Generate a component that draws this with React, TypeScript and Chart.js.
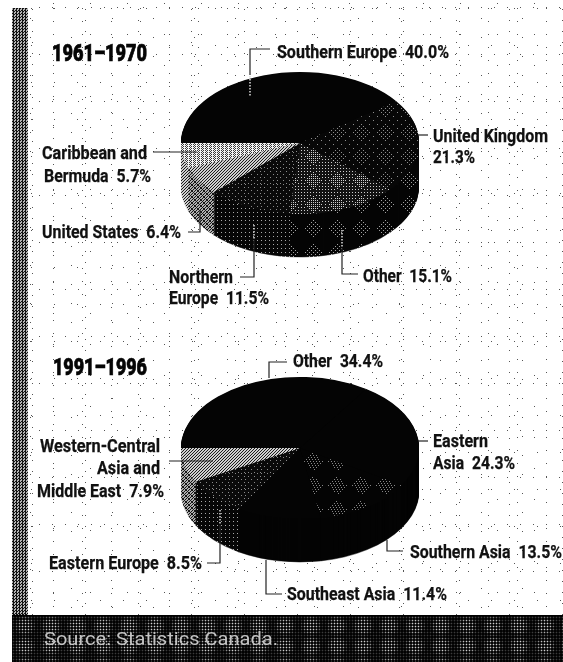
import React, { useEffect, useRef } from "react";
import { Chart, registerables } from "chart.js";

Chart.register(...registerables);

// ---- data ----
const periods = ["1961–1970", "1991–1996"];
const categories1 = ["Southern Europe", "United Kingdom", "Other", "Northern Europe", "United States", "Caribbean and Bermuda"];
const values1 = [40.0, 21.3, 15.1, 11.5, 6.4, 5.7];
const categories2 = ["Other", "Eastern Asia", "Southern Asia", "Southeast Asia", "Eastern Europe", "Western-Central Asia and Middle East"];
const values2 = [34.4, 24.3, 13.5, 11.4, 8.5, 7.9];
const labelLines1 = [
  "Southern Europe  40.0%", "United Kingdom", "21.3%", "Other  15.1%", "Northern", "Europe  11.5%",
  "United States  6.4%", "Caribbean and", "Bermuda  5.7%",
];
const labelLines2 = [
  "Other  34.4%", "Eastern", "Asia  24.3%", "Southern Asia  13.5%", "Southeast Asia  11.4%",
  "Eastern Europe  8.5%", "Western-Central", "Asia and", "Middle East  7.9%",
];
const sourceNote = "Source: Statistics Canada.";

// ---- layout (left, baseline, width) ----
const place1 = [[277, 58, 172], [433, 142, 115], [433, 163, 42], [363, 282, 89], [169, 283, 64], [169, 304, 100], [42, 238, 139], [42, 159, 105], [44, 182, 107]];
const place2 = [[293, 367, 90], [433, 447, 55], [433, 469, 82], [410, 558, 152], [287, 600, 160], [49, 569, 153], [40, 452, 120], [97, 474, 63], [37, 497, 127]];
const titlePlace = [[52, 61, 95], [53, 375, 94]];
const leaders = [
  "250,75 250,49 270,49", "418,135 428,135", "342,248 342,274 358,274", "153,152 197,152",
  "188,232 200,232 200,210", "240,277 254,277 254,240",
  "269,378 269,362 287,362", "418,441 428,441", "387,540 387,551 403,551",
  "266,560 266,594 282,594", "207,563 220,563 220,525", "169,461 213,461",
];
const innerLeaders = ["250,76 250,97", "342,230 342,248", "254,225 254,240", "220,510 220,525"];

const RY = 71;
const DEPTH = 43;
const SIZE = 238;

type Pred = (x: number, y: number) => boolean;
function tile(size: number, bg: string, fg: string, test: Pred): CanvasPattern {
  const c = document.createElement("canvas");
  c.width = size;
  c.height = size;
  const g = c.getContext("2d")!;
  g.fillStyle = bg;
  g.fillRect(0, 0, size, size);
  g.fillStyle = fg;
  for (let y = 0; y < size; y++) for (let x = 0; x < size; x++) if (test(x, y)) g.fillRect(x, y, 1, 1);
  return g.createPattern(c, "repeat")!;
}
const patch = (x: number, y: number, r: number, m = 32) => Math.abs(x - m / 2) + Math.abs(y - m / 2) < r;

function buildStyles() {
  const black = "#040404";
  const ukTop = tile(24, "#070707", "#8e8e8e", (x, y) => (patch(x, y, 9, 24) ? (x + y) % 4 === 0 && x % 2 === 0 : (x + y) % 8 === 0 && x % 4 === 0));
  const otherTop = tile(24, "#121212", "#cfcfcf", (x, y) => (patch(x, y, 10, 24) ? (x + y) % 2 === 0 && y % 2 === 0 : (x + y) % 3 === 0 && y % 3 === 0));
  const northTop = tile(16, "#0a0a0a", "#8a8a8a", (x, y) => x % 3 === 0 && y % 3 === 0 && (x + y) % 2 === 0);
  const hatch = tile(6, "#cfcfcf", "#1c1c1c", (x, y) => (x + y) % 3 === 0);
  const hatchDark = tile(6, "#b0b0b0", "#151515", (x, y) => (x + y) % 3 === 0 || (x - y + 6) % 6 === 0);
  const lightTop = tile(8, "#f4f4f4", "#3a3a3a", (x, y) => (x + y) % 2 === 0 && (y % 2 === 0 || x % 4 === 1));
  const sparse = tile(24, "#040404", "#858585", (x, y) => patch(x, y, 10, 24) && (x + y) % 3 === 0 && y % 2 === 0);
  const wallDots = tile(16, "#070707", "#a8a8a8", (x, y) => x % 4 === 0 && y % 4 === 0);
  const wallDots2 = tile(24, "#060606", "#a0a0a0", (x, y) => patch(x, y, 9, 24) && (x + y) % 4 === 0 && y % 2 === 0);
  return [
    { top: [black, ukTop, otherTop, northTop, hatch, lightTop], wall: [black, wallDots2, wallDots2, wallDots, hatchDark, hatch] },
    { top: [black, black, sparse, black, northTop, hatch], wall: [black, black, black, black, wallDots, hatchDark] },
  ];
}

const piePlugin = {
  id: "tilt",
  beforeDatasetsDraw(chart: any) {
    const { ctx, chartArea } = chart;
    const cx = (chartArea.left + chartArea.right) / 2;
    const cy = (chartArea.top + chartArea.bottom) / 2;
    const k = RY / (SIZE / 2);
    const tilt = (d: number, pats: any[]) => {
      ctx.setTransform(1, 0, 0, 1, 0, 0);
      ctx.translate(cx, cy + d);
      ctx.scale(1, k);
      ctx.translate(-cx, -cy);
      const inv = ctx.getTransform().inverse();
      pats.forEach((p) => p instanceof CanvasPattern && p.setTransform(inv));
    };
    const walls = chart.options.plugins.tilt.wall as any[];
    const tops = chart.options.plugins.tilt.top as any[];
    const arcs = chart.getDatasetMeta(0).data as any[];
    ctx.save();
    for (let d = DEPTH; d >= 1; d--) {
      tilt(d, walls);
      arcs.forEach((arc, i) => {
        const saved = arc.options;
        arc.options = { ...saved, backgroundColor: walls[i], borderColor: walls[i], borderWidth: 0.6, offset: 0, spacing: 0, circular: true, borderRadius: 0, borderAlign: "center", borderJoinStyle: "round" };
        arc.draw(ctx);
        arc.options = saved;
      });
    }
    tilt(0, tops);
  },
  afterDatasetsDraw(chart: any) {
    chart.ctx.restore();
  },
};

function Pie({ values, names, style, top }: { values: number[]; names: string[]; style: any; top: number }) {
  const ref = useRef<HTMLCanvasElement>(null);
  useEffect(() => {
    const chart = new Chart(ref.current!, {
      type: "pie",
      data: {
        labels: names,
        datasets: [{ data: values, backgroundColor: style.top, borderWidth: 0, clip: false } as any],
      },
      options: {
        animation: false,
        responsive: false,
        rotation: -90,
        layout: { padding: 0 },
        plugins: { legend: { display: false }, tooltip: { enabled: false }, tilt: style } as any,
        events: [],
      },
      plugins: [piePlugin],
    });
    return () => chart.destroy();
  }, []);
  return <canvas ref={ref} width={SIZE} height={SIZE} style={{ position: "absolute", left: 181, top, width: SIZE, height: SIZE }} />;
}

const speckle = [
  [29, 13, 11, 2], [37, 31, 7, 19], [41, 19, 23, 9], [13, 47, 5, 31], [53, 11, 31, 4], [23, 37, 15, 27],
];
const speckleBg = speckle.map(() => "radial-gradient(circle at 50% 50%, #555 0.55px, transparent 0.95px)").join(",");
const speckleSize = speckle.map(([w, h]) => `${w}px ${h}px`).join(",");
const specklePos = speckle.map(([, , x, y]) => `${x}px ${y}px`).join(",");

const FONT = "'Roboto','Liberation Sans',sans-serif";

export default function App() {
  const stylesRef = useRef<any>(null);
  if (!stylesRef.current) stylesRef.current = buildStyles();
  const styles = stylesRef.current;
  const text = (s: string, p: number[], size: number, key: string, fill = "#111", weight = 700, stroke = 0.25) => (
    <text key={key} x={p[0]} y={p[1]} textLength={p[2]} lengthAdjust="spacingAndGlyphs" fontSize={size} fontWeight={weight} fontFamily={FONT} fill={fill} stroke={stroke ? fill : "none"} strokeWidth={stroke} style={{ whiteSpace: "pre" }}>
      {s}
    </text>
  );
  return (
    <div style={{ position: "absolute", left: 0, top: 0, width: 563, height: 662, overflow: "hidden", background: "#fff" }}>
      <div style={{ position: "absolute", left: 28, top: 0, right: 0, bottom: 47, backgroundImage: speckleBg, backgroundSize: speckleSize, backgroundPosition: specklePos }} />
      <div style={{ position: "absolute", left: 12, top: 8, width: 16, height: 654, background: "repeating-conic-gradient(#111 0 25%, #b5b5b5 0 50%) 0 0/3px 3px" }} />
      <div style={{ position: "absolute", left: 12, top: 615, right: 0, bottom: 0, borderTop: "1px solid #000", boxSizing: "border-box", background: "radial-gradient(circle, transparent 30%, rgba(0,0,0,.72) 68%) 0 0/26px 20px, radial-gradient(circle, #d0d0d0 0.7px, transparent 1.1px) 0 0/3px 3px, #060606" }} />
      <Pie values={values1} names={categories1} style={styles[0]} top={143 - SIZE / 2} />
      <Pie values={values2} names={categories2} style={styles[1]} top={448 - SIZE / 2} />
      <svg width={563} height={662} style={{ position: "absolute", left: 0, top: 0 }}>
        {leaders.map((pts, i) => <polyline key={i} points={pts} fill="none" stroke="#222" strokeWidth={1.2} />)}
        {innerLeaders.map((pts, i) => <polyline key={i} points={pts} fill="none" stroke="#ddd" strokeWidth={1.5} strokeDasharray="1.5 1.5" />)}
        {periods.map((s, i) => text(s, titlePlace[i], 23, "t" + i, "#050505", 900, 0.7))}
        {labelLines1.map((s, i) => text(s, place1[i], 18.5, "a" + i))}
        {labelLines2.map((s, i) => text(s, place2[i], 18.5, "b" + i))}
        {text(sourceNote, [44, 645, 234], 18.5, "src", "#c4c4c4", 400, 0)}
      </svg>
    </div>
  );
}
